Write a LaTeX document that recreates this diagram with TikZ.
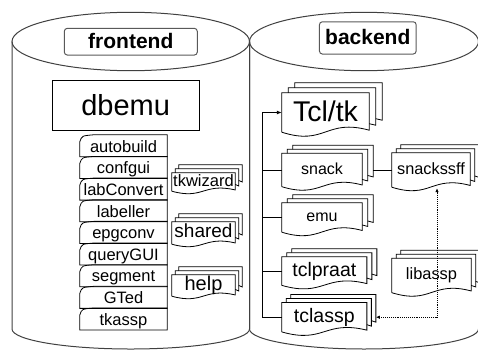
\documentclass[tikz,border=0pt]{standalone}
\usepackage{fontspec}
\setmainfont{Liberation Sans}
\usetikzlibrary{calc,arrows.meta}

% pile of three sheets round a node: node, shift x, shift y, wave
\newcommand{\pile}[4]{%
	\foreach \k in {2,1} {
			\draw[sheet] ($(#1.north west)+(\k*#2,-\k*#3+#3)$) -- ($(#1.north west)+(\k*#2,-\k*#3)$)
			-- ($(#1.north east)+(\k*#2,-\k*#3)$) -- ($(#1.south east)+(\k*#2,-\k*#3-0.5*#4)$)
			-- ($(#1.south east)+(\k*#2-#2,-\k*#3-0.5*#4-1.5)$);
		}
	\draw[sheet] (#1.south west) -- (#1.north west) -- (#1.north east)
	-- ($(#1.south east)+(0,-0.5*#4)$)
	.. controls ($(#1.south)+(0,-3.5*#4)$) and ($(#1.south)+(0,3.5*#4)$) .. (#1.south west);
}
% single card with a bent top corner
\newcommand{\card}[1]{%
	\draw[sheet] (#1.south west) -- ($(#1.north west)+(0,3)$)
	.. controls ($(#1.north west)+(2,-3)$) .. ($(#1.north west)+(14,-4)$)
	-- ($(#1.north east)+(0,-4)$) -- (#1.south east) -- cycle;
}

\begin{document}
\begin{tikzpicture}
	[
		x=1pt, y=-1pt,
		tank/.style={draw=black!75, line width=1pt},
		sheet/.style={draw=black, line width=0.8pt},
		link/.style={draw=black, line width=0.9pt},
		tag/.style={draw=black!65, line width=1pt, rounded corners=3pt, inner sep=0pt,
				font=\fontsize{21}{24}\selectfont\bfseries, text height=15pt, text depth=1pt},
		item/.style={inner sep=0pt, minimum width=87pt, minimum height=17.65pt,
				font=\fontsize{16.5}{18}\selectfont, text height=11.8pt, text depth=3.3pt},
		doc/.style={inner sep=0pt, font=\fontsize{#1}{#1}\selectfont,
				text height={0.72*#1}, text depth={0.2*#1}}
	]
	\useasboundingbox (0,0) rectangle (478,351);
	\clip (0,0) rectangle (478,351);

	% Cylinders
	\draw[tank] (12,41.5) -- (12,329) .. controls (12,340) and (65.2,349) .. (130.75,349)
	.. controls (196.3,349) and (249.5,340) .. (249.5,329) -- (249.5,41.5);
	\draw[tank] (130.75,41.5) ellipse [x radius=118.75pt, y radius=29.2pt];
	\draw[tank] (249.5,41.5) -- (249.5,329) .. controls (249.5,340) and (300.8,349) .. (364,349)
	.. controls (427.2,349) and (478.5,340) .. (478.5,329) -- (478.5,41.5);
	\draw[tank] (364,41.5) ellipse [x radius=114.5pt, y radius=29.2pt];

	\node[tag, minimum width=133pt, minimum height=26.7pt] (frontend) at (130.8,41.7) {frontend};
	\node[tag, minimum width=96.7pt, minimum height=32.3pt] (backend) at (367.8,37.9) {backend};

	% Frontend
	\node[draw, line width=0.8pt, inner sep=0pt, minimum width=146.7pt, minimum height=50pt,
		font=\fontsize{29}{32}\selectfont, text height=21pt, text depth=1pt] (dbemu) at (125.7,105) {dbemu};

	\foreach \name [count=\i from 0] in {autobuild,confgui,labConvert,labeller,epgconv,queryGUI,segment,GTed,tkassp} {
			\node[item] (\name) at ({123.5},{147.8+21.65*\i}) {\name};
			\card{\name}
		}

	\node[doc=16.5, minimum width=63pt, minimum height=18pt] (tkwizard) at (203.5,182) {tkwizard};
	\node[doc=19, minimum width=63pt, minimum height=22pt] (shared) at (203.5,233) {shared};
	\node[doc=20, minimum width=63pt, minimum height=21pt] (help) at (203.5,285.5) {help};
	\foreach \n in {tkwizard,shared,help} {
			\pile{\n}{3.5}{4}{2.5}
		}

	% Backend
	\node[doc=28.5, minimum width=87pt, minimum height=39pt, text depth=2pt] (tcltk) at (325.5,112.5) {Tcl/tk};
	\node[doc=16, minimum width=80pt, minimum height=33pt] (snack) at (322,170) {snack};
	\node[doc=16, minimum width=80pt, minimum height=29pt] (emu) at (322,217.5) {emu};
	\node[doc=19.5, minimum width=84.7pt, minimum height=28.3pt] (tclpraat) at (324.3,271) {tclpraat};
	\node[doc=19.5, minimum width=84.7pt, minimum height=29pt] (tclassp) at (324.3,317.2) {tclassp};
	\node[doc=16.3, minimum width=78pt, minimum height=34pt] (snackssff) at (431,170) {snackssff};
	\node[doc=16.4, minimum width=79pt, minimum height=34pt] (libassp) at (431.5,275.5) {libassp};

	\pile{tcltk}{6.5}{5}{4}
	\pile{snack}{5.5}{4}{3.5}
	\pile{emu}{5.5}{4}{3.5}
	\pile{tclpraat}{5}{4}{3.5}
	\foreach \n in {tclassp,snackssff,libassp} {
			\pile{\n}{4.5}{4}{3.5}
		}

	% Links
	\draw[link, -{Latex[length=5pt,width=4pt]}] (tclassp.west) -- ++(-19,0) |- (tcltk.west);
	\foreach \n in {snack,emu,tclpraat} {
			\draw[link] (\n.west) -- ++(-19,0);
		}
	\draw[link] ($(snack.east)+(11,0)$) -- (snackssff.west);
	\draw[link, densely dotted, {Latex[length=4pt,width=3.5pt]}-{Latex[length=4pt,width=3.5pt]}]
	($(tclassp.east)+(9,0)$) -| ($(snackssff.south)+(6,1)$);
\end{tikzpicture}
\end{document}
